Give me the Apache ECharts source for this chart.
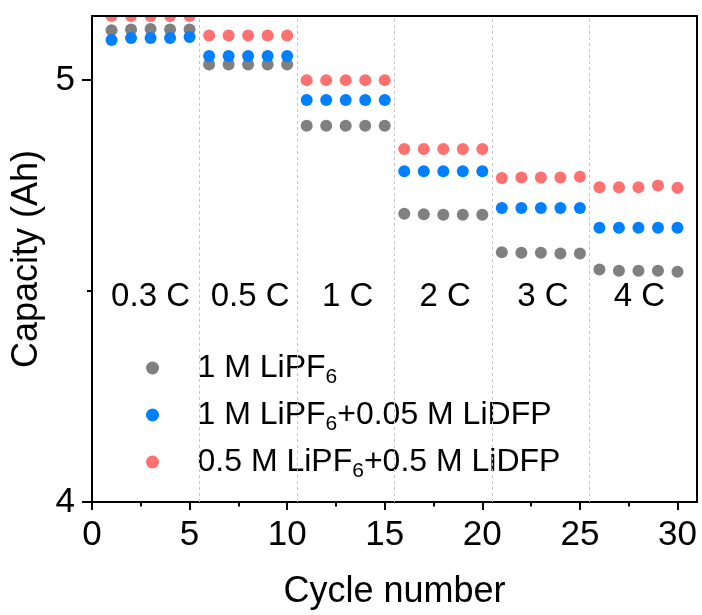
<!DOCTYPE html>
<html>
<head>
<meta charset="utf-8">
<script src="https://cdn.jsdelivr.net/npm/echarts@6/dist/echarts.min.js"></script>
<style>
  html, body { margin: 0; padding: 0; background: #fff; }
  #main { width: 702px; height: 615px; }
</style>
</head>
<body>
<div id="main"></div>
<script>
// cycle index and capacities (Ah)
var cycles = [1, 2, 3, 4, 5, 6, 7, 8, 9, 10, 11, 12, 13, 14, 15,
  16, 17, 18, 19, 20, 21, 22, 23, 24, 25, 26, 27, 28, 29, 30];
var lipf6 = [5.118, 5.120, 5.121, 5.120, 5.120, 5.037, 5.037, 5.037, 5.037, 5.037,
  4.892, 4.892, 4.892, 4.892, 4.892, 4.683, 4.682, 4.681, 4.681, 4.681,
  4.592, 4.591, 4.591, 4.589, 4.589, 4.551, 4.548, 4.548, 4.548, 4.546];
var lidfp005 = [5.095, 5.100, 5.100, 5.100, 5.102, 5.057, 5.057, 5.057, 5.057, 5.057,
  4.953, 4.953, 4.953, 4.953, 4.953, 4.784, 4.784, 4.784, 4.784, 4.784,
  4.697, 4.697, 4.697, 4.697, 4.697, 4.650, 4.650, 4.650, 4.650, 4.650];
var lidfp05 = [5.152, 5.152, 5.152, 5.152, 5.152, 5.106, 5.106, 5.106, 5.106, 5.106,
  5.000, 5.000, 5.000, 5.000, 5.000, 4.837, 4.837, 4.837, 4.837, 4.837,
  4.768, 4.769, 4.769, 4.769, 4.771, 4.746, 4.746, 4.746, 4.750, 4.745];

var seriesNames = ['1 M LiPF6', '1 M LiPF6+0.05 M LiDFP', '0.5 M LiPF6+0.5 M LiDFP'];
var colors = ['#808080', '#0080ff', '#ff7070'];

var rateNames = ['0.3 C', '0.5 C', '1 C', '2 C', '3 C', '4 C'];
var rateX = [3, 8.1, 13.1, 18.1, 23.1, 28.05];
var rateY = 4.485;
var rateBreaks = [5.5, 10.5, 15.5, 20.5, 25.5];

var xTicks = [0, 5, 10, 15, 20, 25, 30];
var yTicks = [4, 5];

var FONT = 'Liberation Sans, Arial, sans-serif';

function pairs(ys) {
  return cycles.map(function (c, i) { return [c, ys[i]]; });
}

var chart = echarts.init(document.getElementById('main'));

chart.setOption({
  animation: false,
  backgroundColor: '#fff',
  textStyle: { fontFamily: FONT },
  grid: {
    left: 92, right: 5, top: 16, bottom: 113,
    outerBoundsMode: 'none',
    show: true, borderColor: '#000', borderWidth: 2
  },
  graphic: [{
    type: 'rect', z: 100, silent: true,
    shape: { x: 0, y: 0, width: 702, height: 15 },
    style: { fill: '#fff' }
  }],
  legend: {
    data: seriesNames,
    orient: 'vertical',
    left: 138, top: 344,
    icon: 'circle',
    itemWidth: 80, itemHeight: 13, itemGap: 7,
    padding: [4, 8, 4, 8],
    backgroundColor: '#fff',
    selectedMode: false,
    formatter: function (name) { return name.replace('LiPF6', 'LiPF{s|6}'); },
    textStyle: {
      fontFamily: FONT, fontSize: 32, color: '#000', lineHeight: 40,
      rich: { s: { fontFamily: FONT, fontSize: 21, lineHeight: 20, verticalAlign: 'bottom', color: '#000' } }
    }
  },
  xAxis: [{
    type: 'value', min: 0, max: 31, interval: 5,
    name: 'Cycle number', nameLocation: 'middle', nameGap: 72,
    nameTextStyle: { fontFamily: FONT, fontSize: 36, color: '#000' },
    axisLine: { onZero: false, lineStyle: { color: '#000', width: 2 } },
    axisTick: { customValues: xTicks, length: 8, lineStyle: { color: '#000', width: 2 } },
    minorTick: { show: true, splitNumber: 2, length: 4.5, lineStyle: { color: '#000', width: 2 } },
    axisLabel: { customValues: xTicks, margin: 16, fontFamily: FONT, fontSize: 35, color: '#000' },
    splitLine: { show: false }
  }, {
    type: 'value', min: 0, max: 31, position: 'top', z: 10,
    axisLine: { onZero: false, lineStyle: { color: '#000', width: 2 } },
    axisTick: { show: false }, axisLabel: { show: false }, splitLine: { show: false }
  }],
  yAxis: {
    type: 'value', min: 4, max: 5.152, interval: 1,
    name: 'Capacity (Ah)', nameLocation: 'middle', nameGap: 45,
    nameTextStyle: { fontFamily: FONT, fontSize: 36, color: '#000' },
    axisLine: { onZero: false, lineStyle: { color: '#000', width: 2 } },
    axisTick: { customValues: yTicks, length: 10, lineStyle: { color: '#000', width: 2 } },
    minorTick: { show: true, splitNumber: 2, length: 5, lineStyle: { color: '#000', width: 2 } },
    axisLabel: { customValues: yTicks, margin: 17, fontFamily: FONT, fontSize: 35, color: '#000' },
    splitLine: { show: false }
  },
  series: [{
    name: seriesNames[0], type: 'scatter', symbol: 'circle', symbolSize: 12,
    itemStyle: { color: colors[0], opacity: 1 },
    data: pairs(lipf6),
    markLine: {
      silent: true, symbol: ['none', 'none'], label: { show: false },
      lineStyle: { color: '#c4c4c4', width: 1, type: [3, 3] },
      data: rateBreaks.map(function (v) { return { xAxis: v }; })
    }
  }, {
    name: seriesNames[1], type: 'scatter', symbol: 'circle', symbolSize: 12,
    itemStyle: { color: colors[1], opacity: 1 },
    data: pairs(lidfp005)
  }, {
    name: seriesNames[2], type: 'scatter', symbol: 'circle', symbolSize: 12,
    itemStyle: { color: colors[2], opacity: 1 },
    data: pairs(lidfp05)
  }, {
    name: 'rates', type: 'scatter', silent: true, symbolSize: 1,
    itemStyle: { color: 'rgba(0,0,0,0)', opacity: 1 },
    label: {
      show: true, position: 'inside', formatter: '{b}',
      fontFamily: FONT, fontSize: 33, color: '#000', opacity: 1
    },
    data: rateX.map(function (x, i) { return { name: rateNames[i], value: [x, rateY] }; })
  }]
});
</script>
</body>
</html>
